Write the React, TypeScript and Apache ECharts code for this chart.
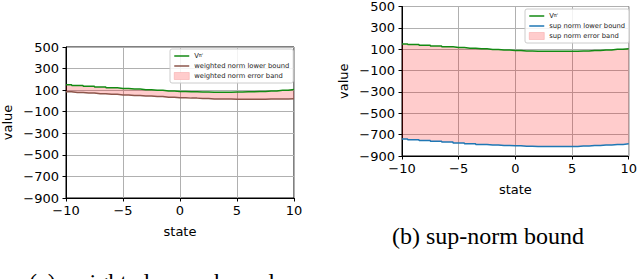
import React, { useEffect, useRef } from "react";
import * as echarts from "echarts";

const states = [-10, -9, -8, -7, -6, -5, -4, -3, -2, -1, 0, 1, 2, 3, 4, 5, 6, 7, 8, 9, 10];
const vPi = [150, 143, 136, 129, 122, 116, 110, 104, 98, 92, 87, 84, 82, 81, 81, 82, 84, 88, 93, 99, 105];
const weightedLower = [85, 79, 73, 67, 61, 55, 50, 45, 40, 35, 30, 26, 22, 19, 17, 15, 15, 16, 17, 18, 20];
const supLower = [-740, -748, -756, -763, -770, -778, -785, -792, -798, -802, -805, -808, -810, -811, -811, -810, -807, -802, -797, -792, -786];
const yTicks = { min: -900, max: 500, interval: 200 };
const xTicks = { min: -10, max: 10, interval: 5 };

const GREEN = "#138a13";
const BROWN = "#8c564b";
const BLUE = "#1f77b4";
const PINK = "rgba(255,0,0,0.2)";
const FONT = "DejaVu Sans";
const LINE_ICON = "path://M0,0 L15,0 L15,1.5 L0,1.5 Z";

export default function App() {
  const ref = useRef<HTMLDivElement>(null);
  useEffect(() => {
    if (!ref.current) return;
    const chart = echarts.init(ref.current, undefined, { renderer: "svg" });
    const pair = (ys: number[]) => states.map((x, i) => [x, ys[i]]);
    const fmt = (v: number) => (v < 0 ? "\u2212" + Math.abs(v) : String(v));

    const grids = [
      { left: 66, top: 47, width: 228, height: 151 },
      { left: 402, top: 5, width: 228, height: 151 },
    ].map((g) => ({ ...g, show: true, borderColor: "#000", borderWidth: 1, backgroundColor: "transparent" }));

    const xAxis = [0, 1].map((i) => ({
      type: "value",
      gridIndex: i,
      min: xTicks.min,
      max: xTicks.max,
      interval: xTicks.interval,
      name: "state",
      nameLocation: "middle",
      nameGap: 27,
      nameTextStyle: { fontFamily: FONT, fontSize: 13, color: "#000" },
      axisLine: { show: true, onZero: false, lineStyle: { color: "#000", width: 1 } },
      axisTick: { show: true, length: 3.5, lineStyle: { color: "#000" } },
      axisLabel: { fontFamily: FONT, fontSize: 13, color: "#000", margin: 6, formatter: fmt },
      splitLine: { show: true, lineStyle: { color: "#b0b0b0", width: 1 } },
    }));

    const yAxis = [0, 1].map((i) => ({
      type: "value",
      gridIndex: i,
      min: yTicks.min,
      max: yTicks.max,
      interval: yTicks.interval,
      name: "value",
      nameLocation: "middle",
      nameGap: 52,
      nameTextStyle: { fontFamily: FONT, fontSize: 13, color: "#000" },
      axisLine: { show: true, onZero: false, lineStyle: { color: "#000", width: 1 } },
      axisTick: { show: true, length: 3.5, lineStyle: { color: "#000" } },
      axisLabel: { fontFamily: FONT, fontSize: 13, color: "#000", margin: 7, formatter: fmt },
      splitLine: { show: true, lineStyle: { color: "#b0b0b0", width: 1 } },
    }));

    const lineBase = { type: "line", step: "middle", symbol: "none", showSymbol: false };

    const bandSeries = (name: string, lower: number[], gi: number) => ({
      type: "custom",
      name,
      xAxisIndex: gi,
      yAxisIndex: gi,
      z: 2,
      clip: true,
      itemStyle: { color: "#ffcccc" },
      data: states.map((x, i) => [x, lower[i], vPi[i]]),
      renderItem: (params: any, api: any) => {
        if (params.dataIndex !== 0) return null;
        const top: number[][] = [];
        const bot: number[][] = [];
        const n = states.length;
        for (let i = 0; i < n; i++) {
          const x0 = i === 0 ? states[0] : (states[i - 1] + states[i]) / 2;
          const x1 = i === n - 1 ? states[n - 1] : (states[i] + states[i + 1]) / 2;
          top.push(api.coord([x0, vPi[i]]), api.coord([x1, vPi[i]]));
          bot.push(api.coord([x0, lower[i]]), api.coord([x1, lower[i]]));
        }
        const points = top.concat(bot.reverse());
        return {
          type: "polygon",
          shape: { points },
          style: { fill: PINK, stroke: "none" },
        };
      },
    });

    const series: any[] = [
      bandSeries("weighted norm error band", weightedLower, 0),
      { ...lineBase, name: "weighted norm lower bound", xAxisIndex: 0, yAxisIndex: 0, data: pair(weightedLower), lineStyle: { color: BROWN, width: 1.5 }, itemStyle: { color: BROWN }, z: 3 },
      { ...lineBase, name: "Vπ", xAxisIndex: 0, yAxisIndex: 0, data: pair(vPi), lineStyle: { color: GREEN, width: 1.5 }, itemStyle: { color: GREEN }, z: 4 },
      bandSeries("sup norm error band", supLower, 1),
      { ...lineBase, name: "sup norm lower bound", xAxisIndex: 1, yAxisIndex: 1, data: pair(supLower), lineStyle: { color: BLUE, width: 1.5 }, itemStyle: { color: BLUE }, z: 3 },
      { ...lineBase, name: "Vπ ", xAxisIndex: 1, yAxisIndex: 1, data: pair(vPi), lineStyle: { color: GREEN, width: 1.5 }, itemStyle: { color: GREEN }, z: 4 },
    ];

    const legendCommon = {
      orient: "vertical",
      itemWidth: 15,
      itemHeight: 7,
      itemGap: 2,
      symbolKeepAspect: true,
      padding: [3, 4, 3, 4],
      backgroundColor: "rgba(255,255,255,0.85)",
      borderColor: "#cccccc",
      borderWidth: 1,
      borderRadius: 2,
      selectedMode: false,
      textStyle: {
        fontFamily: FONT,
        fontSize: 6.75,
        color: "#222",
        lineHeight: 8,
        rich: {
          v: { fontFamily: FONT, fontSize: 6.75, color: "#222" },
          s: { fontFamily: FONT, fontSize: 5, color: "#222", padding: [0, 0, 3, 0] },
        },
      },
      formatter: (name: string) => (name.trim() === "Vπ" ? "{v|V}{s|π'}" : name),
    };

    const bandItem = { color: "#ffcccc", borderColor: "#f5a3a3", borderWidth: 0.5 };

    const legend = [
      {
        ...legendCommon,
        left: 170,
        top: 49,
        data: [
          { name: "Vπ", icon: LINE_ICON, itemStyle: { color: GREEN } },
          { name: "weighted norm lower bound", icon: LINE_ICON, itemStyle: { color: BROWN } },
          { name: "weighted norm error band", icon: "rect", itemStyle: bandItem },
        ],
      },
      {
        ...legendCommon,
        left: 525,
        top: 9,
        data: [
          { name: "Vπ ", icon: LINE_ICON, itemStyle: { color: GREEN } },
          { name: "sup norm lower bound", icon: LINE_ICON, itemStyle: { color: BLUE } },
          { name: "sup norm error band", icon: "rect", itemStyle: bandItem },
        ],
      },
    ];

    const graphic = [
      {
        type: "text",
        left: 151 - 122,
        top: 270,
        style: { text: "(a) weighted-norm bound", fontFamily: "Liberation Serif", fontSize: 24, fill: "#000" },
      },
      {
        type: "text",
        left: 488 - 96,
        top: 224,
        style: { text: "(b) sup-norm bound", fontFamily: "Liberation Serif", fontSize: 24, fill: "#000" },
      },
    ];

    chart.setOption({
      animation: false,
      backgroundColor: "#fff",
      grid: grids,
      xAxis,
      yAxis,
      series,
      legend,
      graphic,
    });
    return () => chart.dispose();
  }, []);
  return <div ref={ref} style={{ width: 640, height: 279, position: "absolute", left: 0, top: 0 }} />;
}
